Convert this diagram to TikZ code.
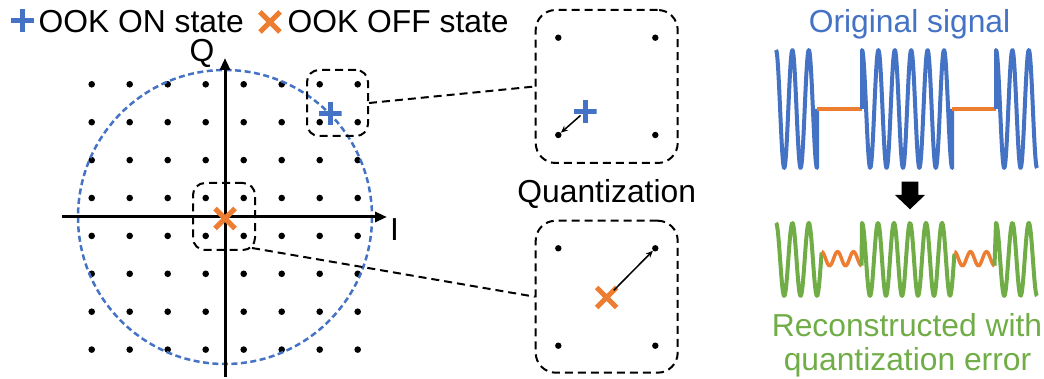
\documentclass[tikz,border=0pt]{standalone}
\usepackage{fontspec}
\setmainfont{Liberation Sans}
\usetikzlibrary{arrows.meta,shapes.misc,calc}

\definecolor{onblue}{HTML}{4472C4}
\definecolor{offorange}{HTML}{ED7D31}
\definecolor{recgreen}{HTML}{70AD47}

\begin{document}
\begin{tikzpicture}[x=1pt,y=-1pt,
    txt/.style={font=\fontsize{31.8}{34}\selectfont, inner sep=0pt, anchor=base},
    onmark/.style={inner sep=0pt, minimum size=23pt,
        path picture={\draw[line width=5pt,onblue]
            (path picture bounding box.west) -- (path picture bounding box.east)
            (path picture bounding box.north) -- (path picture bounding box.south);}},
    offmark/.style={cross out, draw=offorange, line width=5pt, inner sep=0pt, minimum size=15pt},
    zoombox/.style={draw, line width=2pt, dash pattern=on 8pt off 5pt, rounded corners=12pt, inner sep=0pt},
    bigbox/.style={zoombox, rounded corners=20pt, minimum width=142pt, minimum height=152pt},
    link/.style={line width=2pt, dash pattern=on 8pt off 5pt},
    axis/.style={line width=3pt, -{Triangle[length=12pt,width=10pt]}},
    qarrow/.style={line width=1.5pt, -{Stealth[length=7pt,width=6pt]}},
    sig/.style={line width=4pt, line join=round}
    ]
    \useasboundingbox (0,0) rectangle (1044,379);

    % legend
    \node[onmark] (onkey) at (22.5,21) {};
    \node[txt, anchor=base west] (onkeytxt) at (38.5,32.5) {OOK ON state};
    \node[offmark] (offkey) at (270,22) {};
    \node[txt, anchor=base west] (offkeytxt) at (287.5,32.5) {OOK OFF state};

    % constellation grid
    \foreach \i in {0,...,7}
        \foreach \j in {0,...,7}
            \fill ({91.7+38*\i},{84.3+37.9*\j}) circle[radius=3.3pt];
    \draw[onblue, line width=2.5pt, dash pattern=on 6pt off 3.5pt] (225,217) circle (147);

    % axes
    \draw[axis] (62,217) -- (387,217);
    \draw[axis] (225,377) -- (225,58);
    \node[txt] (qlab) at (202,62) {Q};
    \node[txt] (ilab) at (394.5,240.5) {I};

    % zoomed regions
    \node[zoombox, minimum width=61pt, minimum height=66pt] (zoomon) at (337.5,103) {};
    \node[zoombox, minimum width=62pt, minimum height=67pt] (zoomoff) at (224,216.5) {};
    \node[onmark] (onA) at (330,113.5) {};
    \node[offmark] (offA) at (225,218.5) {};

    \node[bigbox, minimum height=153pt] (bigon) at (606.7,86.5) {};
    \node[bigbox] (bigoff) at (606.7,296.7) {};
    \draw[link] (zoomon.east) -- (bigon.west);
    \draw[link] ($(zoomoff.south east)+(-4,-3)$) -- (bigoff.west);

    \foreach \n/\x/\y in {a1/558.3/37.7, a2/655.3/37.7, a3/558.3/135, a4/655.3/135,
                          b1/558.3/248.3, b2/655.3/248.3, b3/558.3/345.7, b4/655.3/345.7}
        \fill (\x,\y) coordinate (\n) circle[radius=3.2pt];

    \node[onmark] (onB) at (585,111.5) {};
    \node[offmark] (offB) at (606.7,297.5) {};
    \draw[qarrow, shorten <=6pt, shorten >=3.5pt] (onB.center) -- (a3);
    \draw[qarrow, shorten <=10pt, shorten >=3.5pt] (offB.center) -- (b2);
    \node[txt] (quanttxt) at (606.7,203) {Quantization};

    % original signal (21.95 = 360/16.4)
    \node[txt, onblue] (origtxt) at (909.5,33) {Original signal};
    \draw[sig, onblue] plot[domain=776:817, samples=80] (\x,{109-59*cos(21.9512*(\x-776))}) -- (817,109);
    \draw[sig, offorange, line width=3.5pt] (817,109) -- (862,109);
    \draw[sig, onblue] (862,109) -- (862,50) -- plot[domain=862:952.2, samples=160] (\x,{109-59*cos(21.9512*(\x-862))}) -- (952.2,109);
    \draw[sig, offorange, line width=3.5pt] (952.2,109) -- (996,109);
    \draw[sig, onblue] (996,109) -- (996,50) -- plot[domain=996:1037, samples=80] (\x,{109-59*cos(21.9512*(\x-996))});

    \fill (901.7,181.7) -- (918.3,181.7) -- (918.3,195) -- (925,195) -- (910,209.3) -- (895,195) -- (901.7,195) -- cycle;

    % reconstructed signal
    \draw[sig, recgreen] plot[domain=776:821.6, samples=80] (\x,{259.4-36.5*cos(21.9512*(\x-776))});
    \draw[sig, offorange, line width=3.5pt] plot[domain=821.6:861.5, samples=80] (\x,{258.7-7*cos(22.556*(\x-821.6))});
    \draw[sig, recgreen] (861.5,265.7) -- plot[domain=862:954.4, samples=160] (\x,{259.4-36.5*cos(22.5*(\x-862))});
    \draw[sig, offorange, line width=3.5pt] plot[domain=954.4:994.5, samples=80] (\x,{258.7-7*cos(22.444*(\x-954.4))});
    \draw[sig, recgreen] (994.5,265.7) -- plot[domain=996:1037, samples=80] (\x,{259.4-36.5*cos(21.9512*(\x-996))});
    \node[txt, recgreen] (rectxt) at (907,336.7) {Reconstructed with};
    \node[txt, recgreen] (rectxt2) at (907.5,370) {quantization error};
\end{tikzpicture}
\end{document}
